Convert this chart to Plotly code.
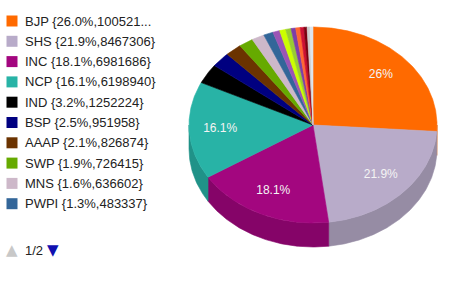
import numpy as np
import plotly.graph_objects as go

# ---- data ----
parties = ["BJP", "SHS", "INC", "NCP", "IND", "BSP", "AAAP", "SWP", "MNS", "PWPI",
           "MIM", "BBM", "SP", "CPM", "RSPS", "JSS", "BVA", "NOTA", "OTH"]
votes = [10052167, 8467306, 6981686, 6198940, 1252224, 951958, 826874, 726415, 636602, 483337,
         347420, 309150, 268900, 233100, 226400, 190500, 150800, 148700, 147630]
colors = ["#ff6a00", "#b8abc9", "#a3067f", "#28b3a6", "#000000", "#000080", "#6b3300", "#66aa00",
          "#cdb8c9", "#336699", "#9b55b5", "#ccff00", "#99cc33", "#7d3fa8", "#ff6633", "#cc1133",
          "#7a0010", "#cccccc", "#dde6ee"]
legend_page_size = 10
page_label = "1/2"

# ---- geometry (layout / styling) ----
W, H = 457, 283
cx, cy, rx, ry, depth = 313, 125, 124, 98, 24
label_frac = 0.75
leg_x_sw, leg_x_txt, leg_y0, leg_dy = 12, 22.5, 21, 20.3
pager_y = 250


def darken(hexc, f=0.82):
    hexc = hexc.lstrip("#")
    r, g, b = (int(hexc[i:i + 2], 16) for i in (0, 2, 4))
    return "rgb(%d,%d,%d)" % (r * f, g * f, b * f)


def pt(t_deg, dy=0.0):
    t = np.radians(t_deg)
    return cx + rx * np.sin(t), cy - ry * np.cos(t) + dy


total = float(sum(votes))
fracs = [v / total for v in votes]
starts = np.concatenate([[0], np.cumsum(fracs)[:-1]]) * 360
ends = np.cumsum(fracs) * 360

fig = go.Figure()

# side walls (front half only: 90..270 deg clockwise from top)
for i in range(len(votes)):
    a0, a1 = max(starts[i], 90), min(ends[i], 270)
    if a1 <= a0:
        continue
    ts = np.linspace(a0, a1, max(3, int((a1 - a0) * 2)))
    xt, yt = pt(ts)
    xb, yb = pt(ts[::-1], depth)
    xs = np.concatenate([xt, xb, xt[:1]])
    ys = np.concatenate([yt, yb, yt[:1]])
    c = darken(colors[i])
    fig.add_trace(go.Scatter(x=xs, y=ys, mode="lines", fill="toself", fillcolor=c,
                             line=dict(color=c, width=0.6), hoverinfo="skip", showlegend=False))

# top faces
for i in range(len(votes)):
    ts = np.linspace(starts[i], ends[i], max(3, int((ends[i] - starts[i]) * 2)))
    xa, ya = pt(ts)
    xs = np.concatenate([[cx], xa, [cx]])
    ys = np.concatenate([[cy], ya, [cy]])
    fig.add_trace(go.Scatter(x=xs, y=ys, mode="lines", fill="toself", fillcolor=colors[i],
                             line=dict(color=colors[i], width=0.6), hoverinfo="skip",
                             showlegend=False, name=parties[i]))

# slice labels
lx, ly, lt = [], [], []
for i in range(len(votes)):
    p = fracs[i] * 100
    if p < 5:
        continue
    mid = (starts[i] + ends[i]) / 2
    t = np.radians(mid)
    lx.append(cx + label_frac * rx * np.sin(t))
    ly.append(cy - label_frac * ry * np.cos(t))
    s = ("%.1f" % p)
    if s.endswith(".0"):
        s = s[:-2]
    lt.append(s + "%")
fig.add_trace(go.Scatter(x=lx, y=ly, mode="text", text=lt,
                         textfont=dict(family="Arial, Liberation Sans", size=12, color="#f4f4f4"),
                         hoverinfo="skip", showlegend=False))

# legend (first page), drawn as swatches + text
sw_y = [leg_y0 + leg_dy * i for i in range(legend_page_size)]
fig.add_trace(go.Scatter(x=[leg_x_sw] * legend_page_size, y=sw_y, mode="markers",
                         marker=dict(symbol="square", size=11, color=colors[:legend_page_size],
                                     line=dict(width=0)),
                         hoverinfo="skip", showlegend=False))
for i in range(legend_page_size):
    lab = "%s {%.1f%%,%d}" % (parties[i], fracs[i] * 100, votes[i])
    if len(lab) > 19:
        lab = lab[:17] + "..."
    fig.add_annotation(x=leg_x_txt, y=sw_y[i], xref="x", yref="y", text=lab, showarrow=False,
                       xanchor="left", yanchor="middle",
                       font=dict(family="Arial, Liberation Sans", size=13, color="#222222"))

# pager
fig.add_annotation(x=12, y=pager_y, xref="x", yref="y", text="▲", showarrow=False,
                   font=dict(size=15, color="#c8c8c8", family="DejaVu Sans"))
fig.add_annotation(x=22.5, y=pager_y, xref="x", yref="y", text=page_label, showarrow=False,
                   xanchor="left",
                   font=dict(size=13, color="#222222", family="Arial, Liberation Sans"))
fig.add_annotation(x=52.5, y=pager_y, xref="x", yref="y", text="▼", showarrow=False,
                   font=dict(size=15, color="#1010b0", family="DejaVu Sans"))

fig.update_layout(
    width=W, height=H, autosize=False,
    margin=dict(l=0, r=0, t=0, b=0),
    paper_bgcolor="white", plot_bgcolor="white",
    xaxis=dict(range=[0, W], visible=False, fixedrange=True),
    yaxis=dict(range=[H, 0], visible=False, fixedrange=True),
    showlegend=False,
)

fig.write_html("out.html")
